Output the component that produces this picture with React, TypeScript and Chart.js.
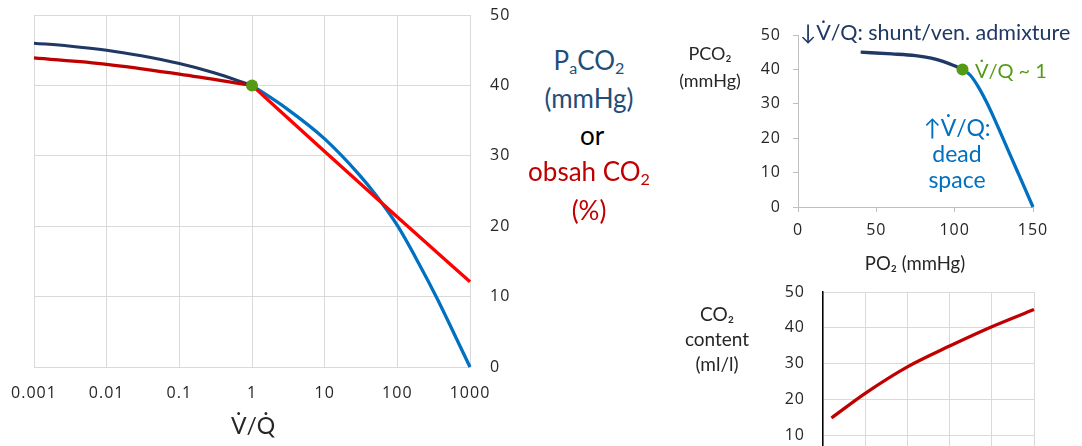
import React, { useEffect, useRef } from 'react';
import { Chart, registerables } from 'chart.js';
Chart.register(...registerables);

// ---------- main chart: V/Q (log) vs PaCO2 / CO2 content ----------
const mainXTicks = [0.001, 0.01, 0.1, 1, 10, 100, 1000];
const mainXTickLabels = ['0.001', '0.01', '0.1', '1', '10', '100', '1000'];
const shuntVQ = [0.001, 0.003, 0.01, 0.03, 0.1, 0.3, 1];
const shuntPaCO2 = [46, 45.6, 45, 44.2, 43.1, 41.8, 40];
const lowVQ = [0.001, 0.01, 0.1, 1];
const lowContent = [43.9, 43.0, 41.6, 40];
const highVQ = [1, 10, 100, 1000];
const highContent = [40, 30.6, 21.3, 12.1];
const deadVQ = [1, 3, 10, 30, 50, 100, 200, 350, 600, 1000];
const deadPaCO2 = [40, 36.7, 32.4, 27.3, 24.5, 20.1, 14.6, 9.8, 4.8, 0];
const idealVQ = [1];
const idealPaCO2 = [40];

// ---------- top right: PO2 vs PCO2 ----------
const shuntPO2 = [40, 60, 75, 85, 92, 99, 105];
const shuntPCO2 = [45, 44.5, 44, 43.3, 42.4, 41.2, 40];
const deadPO2 = [105, 110, 115, 120, 125, 130, 140, 150];
const deadPCO2 = [40, 38.3, 35, 30.8, 26, 20.8, 10.4, 0];
const idealPO2 = [105];
const idealPCO2 = [40];

// ---------- bottom right: CO2 content ----------
const contentX = [4, 20, 40, 60, 80, 100];
const contentY = [14.8, 21.7, 29.1, 34.9, 40.3, 45.1];

const NAVY = '#1f3864';
const DARKRED = '#c00000';
const RED = '#ff0000';
const BLUE = '#0070c0';
const GREEN = '#549a14';
const GRID = '#d9d9d9';
const AXIS = '#bfbfbf';
const TXT = '#262626';
const TICKFONT = { family: 'Open Sans', size: 16 };

const pts = (xs: number[], ys: number[]) => xs.map((x, i) => ({ x, y: ys[i] }));

const fitW = (w: number) => (s: any) => {
  s.width = w;
  s.paddingTop = 0; s.paddingBottom = 0; s.paddingLeft = 0; s.paddingRight = 0;
};
const fitH = (h: number) => (s: any) => {
  s.height = h;
  s.paddingTop = 0; s.paddingBottom = 0; s.paddingLeft = 0; s.paddingRight = 0;
};

const lineDs = (data: any[], color: string, width = 3.3) => ({
  data,
  showLine: true,
  borderColor: color,
  backgroundColor: color,
  borderWidth: width,
  pointRadius: 0,
  cubicInterpolationMode: 'monotone' as const,
  clip: false as const,
});
const dotDs = (data: any[], color: string, r: number) => ({
  data,
  showLine: false,
  pointRadius: r,
  pointBackgroundColor: color,
  pointBorderWidth: 0,
  backgroundColor: color,
  borderColor: color,
  clip: false as const,
});

const spacing = {
  id: 'tickSpacing',
  beforeDraw(chart: any) { chart.ctx.letterSpacing = '1px'; },
};

function useChart(ref: React.RefObject<HTMLCanvasElement>, make: () => any) {
  useEffect(() => {
    if (!ref.current) return;
    const c = new Chart(ref.current, make());
    return () => c.destroy();
  }, []);
}

const basePlugins = { legend: { display: false }, tooltip: { enabled: false } };

function Txt({ x, y, size, color, children, align = 'center' }: any) {
  const tx = align === 'center' ? '-50%' : align === 'left' ? '0' : '-100%';
  return (
    <div
      style={{
        position: 'absolute', left: x, top: y, transform: `translate(${tx},-50%)`,
        fontSize: size, color, whiteSpace: 'nowrap', lineHeight: 1, fontFamily: 'Lato, "Open Sans", sans-serif',
      }}
    >
      {children}
    </div>
  );
}

const Sub = ({ children }: any) => (
  <span style={{ fontSize: '0.62em', verticalAlign: '-0.25em' }}>{children}</span>
);

export default function App() {
  const mainRef = useRef<HTMLCanvasElement>(null);
  const trRef = useRef<HTMLCanvasElement>(null);
  const brRef = useRef<HTMLCanvasElement>(null);

  useChart(mainRef, () => ({
    type: 'scatter',
    data: {
      datasets: [
        dotDs(pts(idealVQ, idealPaCO2), GREEN, 6),
        lineDs(pts(highVQ, highContent), RED),
        lineDs(pts(lowVQ, lowContent), DARKRED),
        lineDs(pts(deadVQ, deadPaCO2), BLUE),
        lineDs(pts(shuntVQ, shuntPaCO2), NAVY, 3),
      ],
    },
    plugins: [spacing],
    options: {
      responsive: false,
      animation: false,
      layout: { padding: { left: 34, top: 15, right: 0, bottom: 0 } },
      plugins: basePlugins,
      scales: {
        x: {
          type: 'logarithmic',
          min: 0.001,
          max: 1000,
          afterBuildTicks: (s: any) => { s.ticks = mainXTicks.map((v) => ({ value: v })); },
          afterFit: fitH(79),
          ticks: {
            autoSkip: false, maxRotation: 0, padding: 17, color: TXT, font: TICKFONT,
            callback: (v: any) => mainXTickLabels[mainXTicks.indexOf(v)] ?? '',
          },
          grid: { color: GRID, drawTicks: false },
          border: { color: GRID },
        },
        y: {
          position: 'right',
          min: 0,
          max: 50,
          afterFit: fitW(60),
          ticks: { stepSize: 10, padding: 20, color: TXT, font: TICKFONT },
          grid: { color: GRID, drawTicks: false },
          border: { color: GRID },
        },
      },
    },
  }));

  useChart(trRef, () => ({
    type: 'scatter',
    data: {
      datasets: [
        dotDs(pts(idealPO2, idealPCO2), GREEN, 6),
        lineDs(pts(deadPO2, deadPCO2), BLUE),
        lineDs(pts(shuntPO2, shuntPCO2), NAVY),
      ],
    },
    plugins: [spacing],
    options: {
      responsive: false,
      animation: false,
      layout: { padding: { left: 0, top: 35, right: 49, bottom: 0 } },
      plugins: basePlugins,
      scales: {
        x: {
          min: 0, max: 150,
          afterFit: fitH(73),
          ticks: { stepSize: 50, padding: 9, color: TXT, font: TICKFONT, maxRotation: 0 },
          grid: { display: true, drawOnChartArea: false, drawTicks: true, tickLength: 5, color: AXIS },
          border: { color: AXIS },
        },
        y: {
          min: 0, max: 50,
          afterFit: fitW(118),
          ticks: { stepSize: 10, padding: 12, color: TXT, font: TICKFONT },
          grid: { display: true, drawOnChartArea: false, drawTicks: true, tickLength: 5, color: AXIS },
          border: { color: AXIS },
        },
      },
    },
  }));

  useChart(brRef, () => ({
    type: 'scatter',
    data: { datasets: [lineDs(pts(contentX, contentY), DARKRED)] },
    plugins: [spacing],
    options: {
      responsive: false,
      animation: false,
      layout: { padding: { left: 0, top: 22, right: 48, bottom: 0 } },
      plugins: basePlugins,
      scales: {
        x: {
          min: 0, max: 100,
          afterFit: fitH(49),
          ticks: { stepSize: 20, display: false },
          grid: { color: GRID, drawTicks: false },
          border: { display: false },
        },
        y: {
          min: 0, max: 50,
          afterFit: fitW(143),
          ticks: { stepSize: 10, padding: 18, color: TXT, font: TICKFONT },
          grid: { color: GRID, drawTicks: false },
          border: { color: '#000000', width: 1.5 },
        },
      },
    },
  }));

  return (
    <div style={{ position: 'fixed', left: 0, top: 0, width: 1082, height: 446, overflow: 'hidden', background: '#fff' }}>
      <canvas ref={mainRef} width={530} height={446} style={{ position: 'absolute', left: 0, top: 0 }} />
      <canvas ref={trRef} width={402} height={280} style={{ position: 'absolute', left: 680, top: 0 }} />
      <canvas ref={brRef} width={402} height={250} style={{ position: 'absolute', left: 680, top: 270 }} />

      {/* main chart x title */}
      <Txt x={253} y={425} size={23} color={TXT}>{'V\u0307/Q\u0307'}</Txt>

      {/* middle legend text */}
      <Txt x={589} y={62} size={26} color="#1f4e79">P<Sub>a</Sub>CO<Sub>2</Sub></Txt>
      <Txt x={589} y={98} size={26} color="#1f4e79">(mmHg)</Txt>
      <Txt x={592} y={135} size={26} color="#000">or</Txt>
      <Txt x={589} y={173} size={26} color={DARKRED}>obsah CO<Sub>2</Sub></Txt>
      <Txt x={589} y={210} size={26} color={DARKRED}>(%)</Txt>

      {/* top right */}
      <Txt x={710} y={53} size={18} color={TXT}>PCO₂</Txt>
      <Txt x={710} y={80} size={18} color={TXT}>(mmHg)</Txt>
      <Txt x={915} y={263} size={18.5} color={TXT}>PO₂ (mmHg)</Txt>
      <Txt x={800} y={33} size={21.5} color={NAVY} align="left">{'↓V\u0307/Q: shunt/ven. admixture'}</Txt>
      <Txt x={975} y={70} size={20} color={GREEN} align="left">{'V\u0307/Q ~ 1'}</Txt>
      <Txt x={957} y={127} size={23} color={BLUE}>{'↑V\u0307/Q:'}</Txt>
      <Txt x={957} y={153} size={23} color={BLUE}>dead</Txt>
      <Txt x={957} y={179} size={23} color={BLUE}>space</Txt>

      {/* bottom right */}
      <Txt x={717} y={313} size={19} color={TXT}>CO₂</Txt>
      <Txt x={717} y={338} size={19} color={TXT}>content</Txt>
      <Txt x={717} y={363} size={19} color={TXT}>(ml/l)</Txt>
    </div>
  );
}
